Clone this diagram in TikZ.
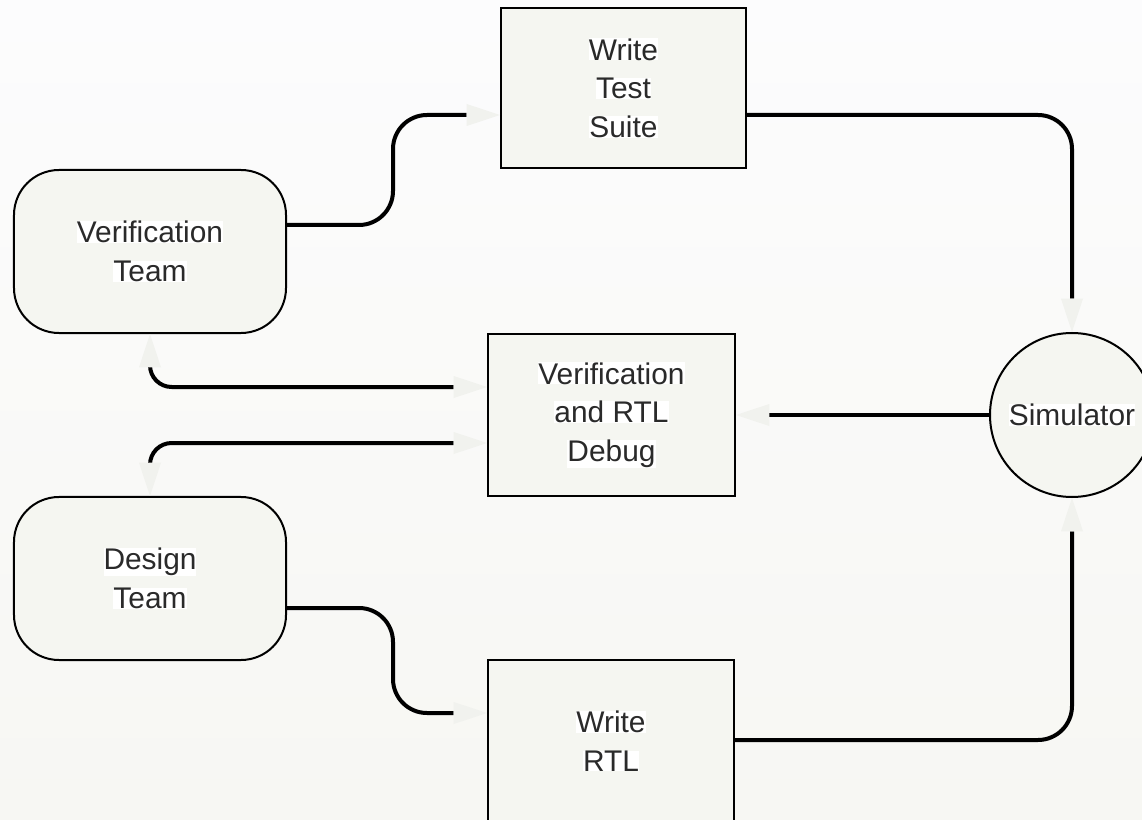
\documentclass[tikz,border=0pt]{standalone}
\usepackage{fontspec}
\setmainfont{Liberation Sans}
\usetikzlibrary{arrows.meta}
\definecolor{bgtop}{HTML}{FCFCFD}
\definecolor{bgbot}{HTML}{F7F7F3}
\definecolor{shapefill}{HTML}{F5F6F1}
\definecolor{tipc}{HTML}{F1F2EE}
\definecolor{txt}{HTML}{2A2A2A}
\newcommand{\wbg}[1]{{\setlength{\fboxsep}{0pt}\colorbox{white}{#1}}}
\tikzset{
  shapebase/.style={draw=black, line width=0.06cm, fill=shapefill, inner sep=0pt, align=center,
    text=txt, font=\fontsize{25.5pt}{33pt}\selectfont},
  boxnode/.style={shapebase, rectangle},
  teamnode/.style={shapebase, rectangle, rounded corners=1.35cm, minimum width=8.16cm, minimum height=4.89cm},
  simnode/.style={shapebase, circle, minimum size=4.92cm},
  tip/.tip={Triangle[length=1.0cm, width=0.66cm, fill=tipc, color=tipc, line width=0pt]},
  conn/.style={line width=0.12cm, draw=black, rounded corners=1.02cm, -tip},
  conntwo/.style={line width=0.12cm, draw=black, rounded corners=0.65cm, tip-tip},
}
\begin{document}
\begin{tikzpicture}[x=0.03cm, y=-0.03cm]
\shade[top color=bgtop, bottom color=bgbot] (0,0) rectangle (1142,820);
\useasboundingbox (0,0) rectangle (1142,820);

\node[boxnode, minimum width=7.35cm, minimum height=4.8cm] (wts) at (623.5,88) {\wbg{Write}\\\wbg{Test}\\\wbg{Suite}};
\node[teamnode] (vt) at (150,251.5) {\wbg{Verification}\\\wbg{Team}};
\node[boxnode, minimum width=7.41cm, minimum height=4.86cm] (dbg) at (611.5,415) {\wbg{Verification}\\\wbg{and RTL}\\\wbg{Debug}};
\node[simnode] (sim) at (1072,415) {\wbg{Simulator}};
\node[teamnode] (dt) at (150,578.5) {\wbg{Design}\\\wbg{Team}};
\node[boxnode, minimum width=7.38cm, minimum height=4.86cm] (rtl) at (611,741) {\wbg{Write}\\\wbg{RTL}};

\draw[conn] (vt.east |- 0,225) -| (393,115) -- (wts.west |- 0,115);
\draw[conn] (wts.east |- 0,115) -| (sim.north);
\draw[conn] (sim.west) -- (dbg.east);
\draw[conntwo] (dbg.west |- 0,387) -| (vt.south);
\draw[conntwo] (dbg.west |- 0,443) -| (dt.north);
\draw[conn] (dt.east |- 0,608) -| (393,713) -- (rtl.west |- 0,713);
\draw[conn] (rtl.east |- 0,740) -| (sim.south);
\end{tikzpicture}
\end{document}
